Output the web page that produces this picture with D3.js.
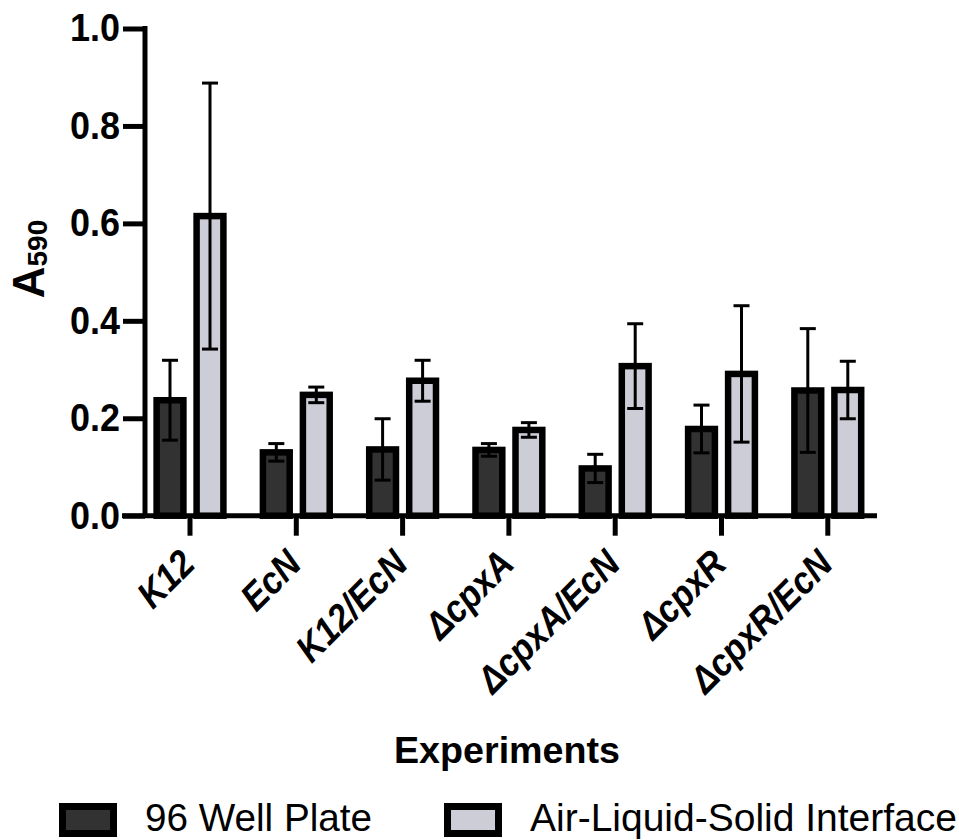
<!DOCTYPE html>
<html>
<head>
<meta charset="utf-8">
<script src="https://cdn.jsdelivr.net/npm/d3@7"></script>
<style>
  body { margin: 0; background: #fff; }
  text { font-family: "Liberation Sans", Arial, Helvetica, sans-serif; }
</style>
</head>
<body>
<div id="chart"></div>
<script>
// data
var categories = ["K12", "EcN", "K12/EcN", "\u0394cpxA", "\u0394cpxA/EcN", "\u0394cpxR", "\u0394cpxR/EcN"];
var seriesNames = ["96 Well Plate", "Air-Liquid-Solid Interface"];
var wellMeans = [0.237, 0.130, 0.136, 0.135, 0.097, 0.178, 0.257];
var wellErrors = [0.082, 0.018, 0.063, 0.013, 0.029, 0.049, 0.127];
var alsiMeans = [0.615, 0.248, 0.277, 0.176, 0.307, 0.291, 0.258];
var alsiErrors = [0.273, 0.016, 0.042, 0.015, 0.087, 0.140, 0.059];
var yTicks = [0, 0.2, 0.4, 0.6, 0.8, 1.0];

var colors = ["#323232", "#cdcdd8"];

var svgWidth = 959, svgHeight = 840;

var svg = d3.select("#chart")
    .append("svg")
    .attr("width", svgWidth)
    .attr("height", svgHeight);

// scales
var y = d3.scaleLinear().domain([0, 1]).range([515.7, 28.5]);

var step = 106.3;
var x = d3.scaleBand()
    .domain(categories)
    .range([190 - step / 2, 190 - step / 2 + step * categories.length]);

var xSub = d3.scaleBand().domain(seriesNames).range([-40, 40]);
var barW = 26.8;

var rows = categories.map(function(c, i) {
    return [
        { cat: c, s: seriesNames[0], v: wellMeans[i], e: wellErrors[i], c: colors[0] },
        { cat: c, s: seriesNames[1], v: alsiMeans[i], e: alsiErrors[i], c: colors[1] }
    ];
});
var flat = d3.merge(rows);

function cx(d) {
    return x(d.cat) + x.bandwidth() / 2 + xSub(d.s) + xSub.bandwidth() / 2;
}

// bars
svg.append("g").selectAll("rect")
    .data(flat)
    .enter()
    .append("rect")
    .attr("x", d => cx(d) - barW / 2)
    .attr("y", d => y(d.v))
    .attr("width", barW)
    .attr("height", d => y(0) - y(d.v))
    .attr("fill", d => d.c)
    .attr("stroke", "#000")
    .attr("stroke-width", 6.5);

// error bars
var err = svg.append("g").selectAll("g")
    .data(flat)
    .enter()
    .append("g")
    .attr("stroke", "#000")
    .attr("stroke-width", 3);

err.append("line")
    .attr("x1", cx).attr("x2", cx)
    .attr("y1", d => y(d.v - d.e))
    .attr("y2", d => y(d.v + d.e));

err.append("line")
    .attr("x1", d => cx(d) - 8).attr("x2", d => cx(d) + 8)
    .attr("y1", d => y(d.v + d.e)).attr("y2", d => y(d.v + d.e));

err.append("line")
    .attr("x1", d => cx(d) - 8).attr("x2", d => cx(d) + 8)
    .attr("y1", d => y(d.v - d.e)).attr("y2", d => y(d.v - d.e));

// y axis
var leftAxis = d3.axisLeft(y)
    .tickValues(yTicks)
    .tickFormat(d3.format(".1f"))
    .tickSize(22)
    .tickSizeOuter(0)
    .tickPadding(3);

var yAxisG = svg.append("g")
    .attr("transform", "translate(145,0)")
    .call(leftAxis);
yAxisG.select(".domain").attr("stroke-width", 5).attr("d", "M0," + (y(1) - 2.5) + "V" + y(0));
yAxisG.selectAll(".tick line").attr("stroke-width", 5);
yAxisG.selectAll(".tick text")
    .attr("font-size", 39)
    .attr("font-weight", "bold")
    .attr("fill", "#000")
    .attr("font-family", "'Liberation Sans', Arial, sans-serif")
    .attr("textLength", 50)
    .attr("lengthAdjust", "spacingAndGlyphs");

// x axis
var bottomAxis = d3.axisBottom(x).tickSize(20).tickSizeOuter(0).tickFormat("");
var xAxisG = svg.append("g")
    .attr("transform", "translate(0," + y(0) + ")")
    .call(bottomAxis);
xAxisG.select(".domain").attr("stroke-width", 5).attr("d", "M122,0H877");
xAxisG.selectAll(".tick line").attr("stroke-width", 5);

// rotated category labels (font is a bit narrower in the original)
svg.append("g").selectAll("text")
    .data(categories)
    .enter()
    .append("text")
    .attr("transform", d => "translate(" + (x(d) + x.bandwidth() / 2 + 7) + ",566) rotate(-45)")
    .attr("text-anchor", "end")
    .attr("font-size", 38)
    .attr("font-weight", "bold")
    .attr("font-style", "italic")
    .attr("fill", "#000")
    .text(d => d)
    .each(function() {
        var len = this.getComputedTextLength();
        d3.select(this)
            .attr("textLength", len * 0.9)
            .attr("lengthAdjust", "spacingAndGlyphs");
    });

// axis titles
var yTitle = svg.append("text")
    .attr("transform", "translate(44,259) rotate(-90)")
    .attr("text-anchor", "middle")
    .attr("font-weight", "bold")
    .attr("fill", "#000");
yTitle.append("tspan").attr("font-size", 44).text("A");
yTitle.append("tspan").attr("font-size", 28).attr("dy", 3).text("590");

svg.append("text")
    .attr("x", 507)
    .attr("y", 763)
    .attr("text-anchor", "middle")
    .attr("font-size", 36)
    .attr("font-weight", "bold")
    .attr("fill", "#000")
    .attr("textLength", 226)
    .attr("lengthAdjust", "spacingAndGlyphs")
    .text("Experiments");

// legend
var legendX = [62.5, 447.5];
var legendW = [227, 427];
var legend = svg.append("g").selectAll("g")
    .data(seriesNames)
    .enter()
    .append("g")
    .attr("transform", (d, i) => "translate(" + legendX[i] + ",806.5)");

legend.append("rect")
    .attr("width", 51)
    .attr("height", 27)
    .attr("fill", (d, i) => colors[i])
    .attr("stroke", "#000")
    .attr("stroke-width", 7);

legend.append("text")
    .attr("x", 82.5)
    .attr("y", 24.5)
    .attr("font-size", 39)
    .attr("fill", "#000")
    .attr("textLength", (d, i) => legendW[i])
    .attr("lengthAdjust", "spacingAndGlyphs")
    .text(d => d);
</script>
</body>
</html>
